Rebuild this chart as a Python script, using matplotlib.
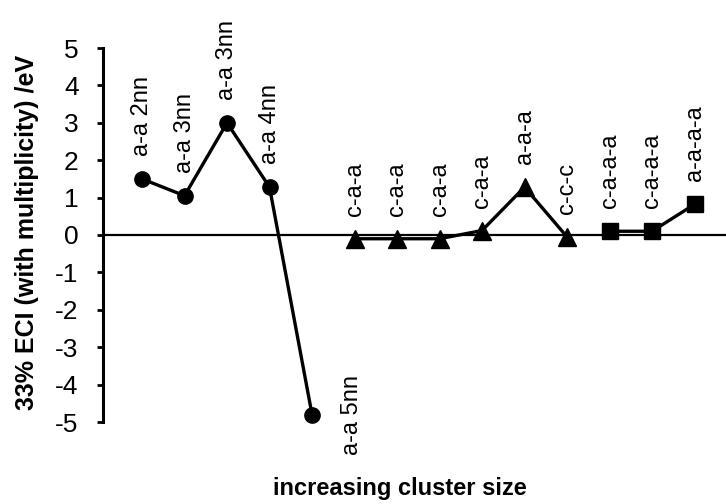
import matplotlib
matplotlib.use("Agg")
import matplotlib.pyplot as plt

plt.rcParams['font.family'] = ['Liberation Sans', 'DejaVu Sans']
plt.rcParams['axes.unicode_minus'] = False

# pair clusters (circles)
pair_x = [1, 2, 3, 4, 5]
pair_y = [1.5, 1.05, 3.0, 1.28, -4.8]
pair_lab = ['a-a 2nn', 'a-a 3nn', 'a-a 3nn', 'a-a 4nn', 'a-a 5nn']

# triplet clusters (triangles)
trip_x = [6, 7, 8, 9, 10, 11]
trip_y = [-0.1, -0.1, -0.1, 0.12, 1.28, -0.05]
trip_lab = ['c-a-a', 'c-a-a', 'c-a-a', 'c-a-a', 'a-a-a', 'c-c-c']

# quadruplet clusters (squares)
quad_x = [12, 13, 14]
quad_y = [0.1, 0.1, 0.82]
quad_lab = ['c-a-a-a', 'c-a-a-a', 'a-a-a-a']

fig = plt.figure(figsize=(7.26, 5.04), dpi=100)
ax = fig.add_axes([103/726, 1-422/504, 1-103/726, 374/504])

ax.axhline(0, color='black', lw=1.6, zorder=1)

ax.plot(pair_x, pair_y, color='black', lw=2.4, marker='o', ms=11, clip_on=False, zorder=3)
ax.plot(trip_x, trip_y, color='black', lw=2.4, marker='^', ms=12.5, clip_on=False, zorder=3)
ax.plot(quad_x, quad_y, color='black', lw=2.4, marker='s', ms=11.5, clip_on=False, zorder=3)

# labels above points
for xs, ys, labs in [(pair_x[:4], pair_y[:4], pair_lab[:4]),
                     (trip_x, trip_y, trip_lab),
                     (quad_x, quad_y, quad_lab)]:
    for x, y, t in zip(xs, ys, labs):
        ax.annotate(t, (x, y), xytext=(0, 16.5), textcoords='offset points',
                    rotation=90, ha='center', va='bottom', fontsize=17)

# the negative one goes to the right
ax.annotate(pair_lab[4], (pair_x[4], pair_y[4]), xytext=(29, 0), textcoords='offset points',
            rotation=90, ha='center', va='center', fontsize=17, annotation_clip=False)

ax.set_xlim(0.082, 14.74)
ax.set_ylim(-5, 5)
ax.set_yticks(range(-5, 6))
ax.set_xticks([])
for s in ['top', 'right', 'bottom']:
    ax.spines[s].set_visible(False)
ax.spines['left'].set_linewidth(2.2)
ax.tick_params(axis='y', direction='out', length=4.5, width=2, pad=13, labelsize=19)

fig.text(27/726, 1-232/504, '33% ECI (with multiplicity) /eV', rotation=90,
         ha='center', va='center', fontsize=18, fontweight='bold')
fig.text(400/726, 1-489/504, 'increasing cluster size', ha='center', va='center',
         fontsize=17, fontweight='bold')

fig.savefig('out.png', dpi=100)
